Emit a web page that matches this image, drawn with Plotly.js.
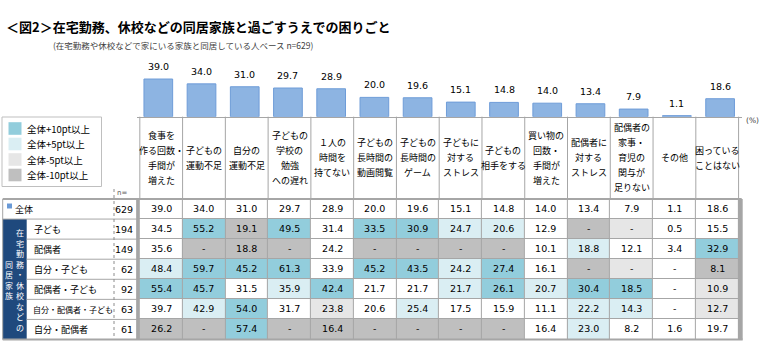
<!DOCTYPE html>
<html>
<head>
<meta charset="utf-8">
<script src="https://cdn.plot.ly/plotly-3.0.1.min.js"></script>
<style>html,body{margin:0;padding:0;background:#fff;}#chart{width:760px;height:363px;}</style>
</head>
<body>
<div id="chart"></div>
<script>
// ---------- DATA ----------
const categories = [
  '食事を作る回数・手間が増えた','子どもの運動不足','自分の運動不足','子どもの学校の勉強への遅れ',
  '１人の時間を持てない','子どもの長時間の動画閲覧','子どもの長時間のゲーム','子どもに対するストレス',
  '子どもの相手をする','買い物の回数・手間が増えた','配偶者に対するストレス','配偶者の家事・育児の関与が足りない',
  'その他','困っていることはない'
];
const headerLabels = [
  '食事を<br>作る回数・<br>手間が<br>増えた','子どもの<br>運動不足','自分の<br>運動不足','子どもの<br>学校の<br>勉強<br>への遅れ',
  '１人の<br>時間を<br>持てない','子どもの<br>長時間の<br>動画閲覧','子どもの<br>長時間の<br>ゲーム','子どもに<br>対する<br>ストレス',
  '子どもの<br>相手をする','買い物の<br>回数・<br>手間が<br>増えた','配偶者に<br>対する<br>ストレス','配偶者の<br>家事・<br>育児の<br>関与が<br>足りない',
  'その他','困っている<br>ことはない'
];
const rowLabels = ['全体','子ども','配偶者','自分・子ども','配偶者・子ども','自分・配偶者・子ども','自分・配偶者'];
const nValues = [629,194,149,62,92,63,61];

const valAll             = [39.0,34.0,31.0,29.7,28.9,20.0,19.6,15.1,14.8,14.0,13.4,7.9,1.1,18.6];
const valChild           = [34.5,55.2,19.1,49.5,31.4,33.5,30.9,24.7,20.6,12.9,null,null,0.5,15.5];
const valSpouse          = [35.6,null,18.8,null,24.2,null,null,null,null,10.1,18.8,12.1,3.4,32.9];
const valSelfChild       = [48.4,59.7,45.2,61.3,33.9,45.2,43.5,24.2,27.4,16.1,null,null,null,8.1];
const valSpouseChild     = [55.4,45.7,31.5,35.9,42.4,21.7,21.7,21.7,26.1,20.7,30.4,18.5,null,10.9];
const valSelfSpouseChild = [39.7,42.9,54.0,31.7,23.8,20.6,25.4,17.5,15.9,11.1,22.2,14.3,null,12.7];
const valSelfSpouse      = [26.2,null,57.4,null,16.4,null,null,null,null,16.4,23.0,8.2,1.6,19.7];

// highlight codes: 2 = 全体+10pt以上, 1 = +5pt, 0 = none, -1 = -5pt, -2 = -10pt
const codeAll             = [0,0,0,0,0,0,0,0,0,0,0,0,0,0];
const codeChild           = [0,2,-2,2,0,2,2,1,1,0,-2,-1,0,0];
const codeSpouse          = [0,-2,-2,-2,0,-2,-2,-2,-2,0,1,0,0,2];
const codeSelfChild       = [1,2,2,2,0,2,2,1,2,0,-2,-1,0,-2];
const codeSpouseChild     = [2,2,0,1,2,0,0,1,2,1,2,2,0,-1];
const codeSelfSpouseChild = [0,1,2,0,-1,0,1,0,0,0,1,1,0,-1];
const codeSelfSpouse      = [-2,-2,2,-2,-2,-2,-2,-2,-2,0,1,0,0,0];

const legendLabels = ['全体+10pt以上','全体+5pt以上','全体-5pt以上','全体-10pt以上'];
const legendCodes = [2,1,-1,-2];

// ---------- STYLE ----------
const W = 760, H = 363;
const px = v => v / W;
const py = v => 1 - v / H;
const CJK = '"Noto Sans CJK JP", sans-serif';
const NUM = '"DejaVu Sans", "Noto Sans CJK JP", sans-serif';
const GRID = '#A6A6A6';
const codeColor = {'2':'#92CDDC','1':'#DAEEF3','0':'#FFFFFF','-1':'#E6E6E6','-2':'#BFBFBF'};

const tableL = 136.7, tableR = 741.7;
const barBase = 116.7, barTop = 60, pxPerUnit = 0.966;
const headTop = 116.7, headBot = 199, tabBot = 339.5;

const values = [valAll,valChild,valSpouse,valSelfChild,valSpouseChild,valSelfSpouseChild,valSelfSpouse];
const codes = [codeAll,codeChild,codeSpouse,codeSelfChild,codeSpouseChild,codeSelfSpouseChild,codeSelfSpouse];
const texts = values.map(r => r.map(v => v === null ? '-' : v.toFixed(1)));

const traces = [
  {
    type: 'bar', x: categories, y: valAll, xaxis: 'x', yaxis: 'y',
    marker: {color: '#8DB4E2', line: {color: '#6E9CD8', width: 1}},
    hoverinfo: 'skip'
  },
  {
    type: 'heatmap', x: categories, y: rowLabels, z: codes, text: texts,
    texttemplate: '%{text}', textfont: {family: NUM, size: 9.5, color: '#000'},
    xaxis: 'x2', yaxis: 'y2', zmin: -2, zmax: 2, showscale: false, xgap: 1, ygap: 1,
    colorscale: [[0,'#BFBFBF'],[0.125,'#BFBFBF'],[0.125,'#E6E6E6'],[0.375,'#E6E6E6'],
                 [0.375,'#FFFFFF'],[0.625,'#FFFFFF'],[0.625,'#DAEEF3'],[0.875,'#DAEEF3'],
                 [0.875,'#92CDDC'],[1,'#92CDDC']],
    hoverinfo: 'skip'
  }
];

const annotations = [];
const shapes = [];

// title
annotations.push({xref:'paper',yref:'paper',x:px(4),y:py(26),xanchor:'left',yanchor:'middle',showarrow:false,
  text:'<b>＜図2＞在宅勤務、休校などの同居家族と過ごすうえでの困りごと</b>',font:{family:CJK,size:13,color:'#000'}});
annotations.push({xref:'paper',yref:'paper',x:px(51),y:py(45),xanchor:'left',yanchor:'middle',showarrow:false,
  text:'(在宅勤務や休校などで家にいる家族と同居している人ベース n=629)',font:{family:CJK,size:8.5,color:'#404040'}});

// bar labels
categories.forEach((c, i) => {
  annotations.push({xref:'x',yref:'y',x:i,y:valAll[i],yshift:12.5,xanchor:'center',yanchor:'middle',showarrow:false,
    text:valAll[i].toFixed(1),font:{family:NUM,size:9.5,color:'#000'}});
});
annotations.push({xref:'paper',yref:'paper',x:px(744),y:py(120),xanchor:'left',yanchor:'middle',showarrow:false,
  text:'(%)',font:{family:NUM,size:7.5,color:'#404040'}});

// header
headerLabels.forEach((lab, i) => {
  const lines = lab.split('<br>');
  lines.forEach((ln, k) => {
    const yp = 157.8 + (k - (lines.length - 1) / 2) * 15;
    annotations.push({xref:'x2',yref:'paper',x:i,y:py(yp),xanchor:'center',yanchor:'middle',showarrow:false,
      text:ln,font:{family:CJK,size:9,color:'#000'}});
  });
});
for (let i = 0; i <= categories.length; i++) {
  shapes.push({type:'line',xref:'x2',yref:'paper',x0:i-0.5,x1:i-0.5,y0:py(headTop),y1:py(headBot),line:{color:GRID,width:1}});
}

// legend
shapes.push({type:'rect',xref:'paper',yref:'paper',x0:px(2),x1:px(101.5),y0:py(117),y1:py(186.5),line:{color:'#BFBFBF',width:1},fillcolor:'#fff'});
const legY = [128.5,144,159.5,175];
legendLabels.forEach((l, k) => {
  shapes.push({type:'rect',xref:'paper',yref:'paper',x0:px(8.5),x1:px(21.5),y0:py(legY[k]-6.3),y1:py(legY[k]+6.3),
    line:{width:0},fillcolor:codeColor[String(legendCodes[k])]});
  annotations.push({xref:'paper',yref:'paper',x:px(25),y:py(legY[k]),xanchor:'left',yanchor:'middle',showarrow:false,
    text:l,font:{family:CJK,size:9.5,color:'#000'}});
});

// n=
annotations.push({xref:'paper',yref:'paper',x:px(122),y:py(193),xanchor:'center',yanchor:'middle',showarrow:false,
  text:'n=',font:{family:NUM,size:7,color:'#595959'}});

// left table part
shapes.push({type:'rect',xref:'paper',yref:'paper',x0:px(2.7),x1:px(26.7),y0:py(219),y1:py(tabBot),line:{width:0},fillcolor:'#1F497D'});
shapes.push({type:'rect',xref:'paper',yref:'paper',x0:px(7),x1:px(12),y0:py(203.5),y1:py(208.5),line:{width:0},fillcolor:'#6A9AD6'});
rowLabels.forEach((r, i) => {
  const long = r.length > 8;
  annotations.push({xref:'paper',yref:'y2',x:px(i === 0 ? 14 : (long ? 31.5 : 33)),y:i,xanchor:'left',yanchor:'middle',showarrow:false,
    borderpad:0,text:r,font:{family:CJK,size:long ? 8 : 9,color:'#000'}});
  annotations.push({xref:'paper',yref:'y2',x:px(133.5),y:i,xanchor:'right',yanchor:'middle',showarrow:false,
    borderpad:0,text:String(nValues[i]),font:{family:NUM,size:9.5,color:'#000'}});
  if (i < rowLabels.length - 1) {
    shapes.push({type:'line',xref:'paper',yref:'y2',x0:px(i === 0 ? 2.7 : 26.7),x1:px(tableL),y0:i+0.5,y1:i+0.5,line:{color:GRID,width:1}});
  }
});
// vertical group label (one upright character per position)
const vRight = '在宅勤務・休校などの'.split('');
const vLeft = '同居家族'.split('');
const vStep = 10.5;
vRight.forEach((ch, k) => {
  annotations.push({xref:'paper',yref:'paper',x:px(20),y:py(280+(k-(vRight.length-1)/2)*vStep),xanchor:'center',yanchor:'middle',showarrow:false,
    borderpad:0,text:ch,font:{family:CJK,size:8,color:'#fff'}});
});
vLeft.forEach((ch, k) => {
  annotations.push({xref:'paper',yref:'paper',x:px(9),y:py(280+(k-(vLeft.length-1)/2)*vStep),xanchor:'center',yanchor:'middle',showarrow:false,
    borderpad:0,text:ch,font:{family:CJK,size:8,color:'#fff'}});
});

// borders
shapes.push({type:'line',xref:'paper',yref:'paper',x0:px(114),x1:px(114),y0:py(189),y1:py(tabBot),line:{color:'#8C8C8C',width:1,dash:'dot'}});
shapes.push({type:'line',xref:'paper',yref:'paper',x0:px(2.7),x1:px(2.7),y0:py(headBot),y1:py(tabBot),line:{color:GRID,width:1}});
shapes.push({type:'line',xref:'paper',yref:'paper',x0:px(tableL),x1:px(tableL),y0:py(headBot),y1:py(tabBot),line:{color:GRID,width:1}});
shapes.push({type:'line',xref:'paper',yref:'paper',x0:px(2.7),x1:px(tableR),y0:py(headBot),y1:py(headBot),line:{color:GRID,width:2}});
shapes.push({type:'line',xref:'paper',yref:'paper',x0:px(2.7),x1:px(tableR+1),y0:py(tabBot),y1:py(tabBot),line:{color:GRID,width:2}});
shapes.push({type:'line',xref:'paper',yref:'paper',x0:px(tableR),x1:px(tableR),y0:py(headBot),y1:py(tabBot),line:{color:GRID,width:2}});
// grid background under heatmap
shapes.push({type:'rect',xref:'paper',yref:'paper',layer:'below',x0:px(tableL),x1:px(tableR),y0:py(headBot),y1:py(tabBot),line:{width:0},fillcolor:GRID});

const layout = {
  width: W, height: H, margin: {l:0,r:0,t:0,b:0}, autosize: false,
  paper_bgcolor: '#fff', plot_bgcolor: 'rgba(0,0,0,0)', showlegend: false,
  bargap: 0.336,
  xaxis: {domain:[px(tableL),px(tableR)], anchor:'y', type:'category', showticklabels:false, ticks:'',
          showline:true, linecolor:GRID, linewidth:1, showgrid:false, zeroline:false, fixedrange:true},
  yaxis: {domain:[py(barBase),py(barTop)], anchor:'x', range:[0,(barBase-barTop)/pxPerUnit], visible:false, fixedrange:true},
  xaxis2: {domain:[px(tableL),px(tableR)], anchor:'y2', type:'category', visible:false, fixedrange:true},
  yaxis2: {domain:[py(tabBot),py(headBot)], anchor:'x2', type:'category', autorange:'reversed', visible:false, fixedrange:true},
  annotations: annotations, shapes: shapes
};

Plotly.newPlot('chart', traces, layout, {staticPlot:true, displayModeBar:false});
</script>
</body>
</html>
